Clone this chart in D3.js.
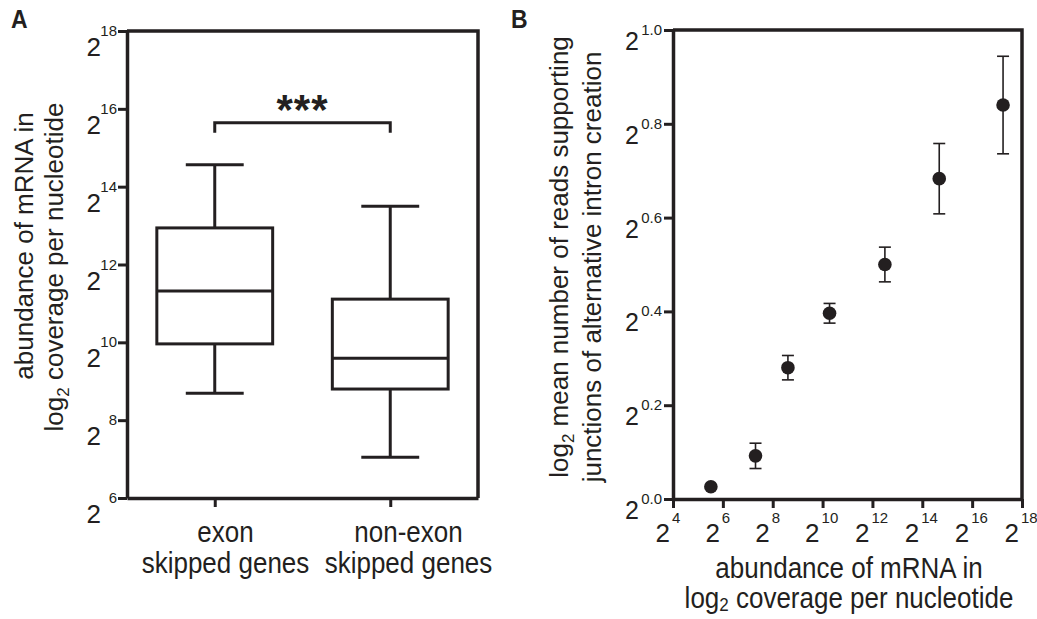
<!DOCTYPE html>
<html>
<head>
<meta charset="utf-8">
<script src="https://cdn.jsdelivr.net/npm/d3@7"></script>
<style>
  body { margin: 0; background: #fff; }
  svg { font-family: "Liberation Sans", Arial, sans-serif; }
  text { fill: #231f20; }
</style>
</head>
<body>
<svg width="1037" height="619"></svg>
<script>
// panel A data: box plot summaries (log2 coverage)
var groups = ["exon", "non-exon"];
var groupLine1 = ["exon", "non-exon"];
var groupLine2 = ["skipped genes", "skipped genes"];
var boxMin = [8.69, 7.05];
var boxQ1 = [9.96, 8.80];
var boxMedian = [11.32, 9.59];
var boxQ3 = [12.94, 11.11];
var boxMax = [14.56, 13.50];
var yTicksA = [6, 8, 10, 12, 14, 16, 18];

// panel B data: mean +- error
var abundance = [5.52, 7.31, 8.61, 10.28, 12.5, 14.68, 17.24];
var meanReads = [0.026, 0.092, 0.280, 0.396, 0.500, 0.683, 0.840];
var errReads = [0.004, 0.027, 0.026, 0.021, 0.037, 0.075, 0.104];
var xTicksB = [4, 6, 8, 10, 12, 14, 16, 18];
var yTicksB = [0.0, 0.2, 0.4, 0.6, 0.8, 1.0];

var ink = "#231f20";
var stretch = 1.12; // the printed lettering is a bit taller than Arial
var svg = d3.select("svg");

function at(x, y) { return "translate(" + x + "," + y + ") scale(1," + stretch + ")"; }

// ---------- panel A ----------
var xA = d3.scalePoint().domain(groups).range([127, 478]).padding(0.5);
var yA = d3.scaleLinear().domain([6, 18]).range([498, 31]);
var boxW = xA.step() * 0.66;

var gA = svg.append("g");

gA.append("g")
    .attr("class", "axis")
    .attr("transform", "translate(127,0)")
    .call(d3.axisLeft(yA).tickValues(yTicksA).tickSize(9).tickSizeOuter(0).tickFormat(""));

gA.append("g")
    .attr("class", "axis")
    .attr("transform", "translate(0,498)")
    .call(d3.axisBottom(xA).tickSize(9).tickSizeOuter(0).tickFormat(""));

// frame top/right
gA.append("path")
    .attr("d", "M127," + yA(18) + "H478V498")
    .attr("fill", "none").attr("stroke", ink).attr("stroke-width", 3.5);

// y tick labels 2^n
gA.selectAll(".ylab").data(yTicksA).enter().append("text")
    .attr("x", 101).attr("y", function(d) { return yA(d) + 25; })
    .attr("text-anchor", "end").style("font-size", "26px").text("2");
gA.selectAll(".ysup").data(yTicksA).enter().append("text")
    .attr("x", 117).attr("y", function(d) { return yA(d) + 5; })
    .attr("text-anchor", "end").style("font-size", "15px").text(function(d) { return d; });

// category labels
var labX = d3.scalePoint().domain(groups).range([127 + 7, 478 + 22]).padding(0.5);
gA.selectAll(".cat1").data(groups).enter().append("text")
    .attr("transform", function(d) { return at(labX(d), 542); })
    .attr("text-anchor", "middle").style("font-size", "26px")
    .text(function(d, i) { return groupLine1[i]; });
gA.selectAll(".cat2").data(groups).enter().append("text")
    .attr("transform", function(d) { return at(labX(d), 573); })
    .attr("text-anchor", "middle").style("font-size", "26px")
    .text(function(d, i) { return groupLine2[i]; });

// whiskers
var box = gA.selectAll(".box").data(groups).enter().append("g")
    .attr("fill", "none").attr("stroke", ink).attr("stroke-width", 3);
box.append("line")
    .attr("x1", function(d) { return xA(d); }).attr("x2", function(d) { return xA(d); })
    .attr("y1", function(d, i) { return yA(boxMax[i]); })
    .attr("y2", function(d, i) { return yA(boxQ3[i]); });
box.append("line")
    .attr("x1", function(d) { return xA(d); }).attr("x2", function(d) { return xA(d); })
    .attr("y1", function(d, i) { return yA(boxQ1[i]); })
    .attr("y2", function(d, i) { return yA(boxMin[i]); });
box.append("line")
    .attr("x1", function(d) { return xA(d) - boxW / 4; }).attr("x2", function(d) { return xA(d) + boxW / 4; })
    .attr("y1", function(d, i) { return yA(boxMax[i]); })
    .attr("y2", function(d, i) { return yA(boxMax[i]); });
box.append("line")
    .attr("x1", function(d) { return xA(d) - boxW / 4; }).attr("x2", function(d) { return xA(d) + boxW / 4; })
    .attr("y1", function(d, i) { return yA(boxMin[i]); })
    .attr("y2", function(d, i) { return yA(boxMin[i]); });
box.append("rect")
    .attr("x", function(d) { return xA(d) - boxW / 2; })
    .attr("y", function(d, i) { return yA(boxQ3[i]); })
    .attr("width", boxW)
    .attr("height", function(d, i) { return yA(boxQ1[i]) - yA(boxQ3[i]); });
box.append("line")
    .attr("x1", function(d) { return xA(d) - boxW / 2; }).attr("x2", function(d) { return xA(d) + boxW / 2; })
    .attr("y1", function(d, i) { return yA(boxMedian[i]); })
    .attr("y2", function(d, i) { return yA(boxMedian[i]); });

// significance bracket
var brY = yA(15.64);
gA.append("path")
    .attr("d", "M" + xA("exon") + "," + (brY + 10) + "V" + brY + "H" + xA("non-exon") + "V" + (brY + 10))
    .attr("fill", "none").attr("stroke", ink).attr("stroke-width", 3);
gA.append("text")
    .attr("x", (xA("exon") + xA("non-exon")) / 2).attr("y", brY + 1)
    .attr("text-anchor", "middle").style("font-size", "42px").style("font-weight", "bold")
    .style("letter-spacing", "1px")
    .text("***");

// y title
gA.append("text").attr("transform", "translate(33,246) rotate(-90)")
    .attr("text-anchor", "middle").style("font-size", "26px")
    .text("abundance of mRNA in");
var tA2 = gA.append("text").attr("transform", "translate(63,267) rotate(-90)")
    .attr("text-anchor", "middle").style("font-size", "26px");
tA2.append("tspan").text("log");
tA2.append("tspan").attr("dy", 6).style("font-size", "17px").text("2");
tA2.append("tspan").attr("dy", -6).text(" coverage per nucleotide");

svg.append("text").attr("transform", at(11, 28))
    .style("font-size", "23px").style("font-weight", "bold").text("A");

// ---------- panel B ----------
var xB = d3.scaleLinear().domain([4, 18]).range([673, 1022]);
var yB = d3.scaleLinear().domain([0, 1]).range([499, 30]);
var gB = svg.append("g");

gB.append("g")
    .attr("class", "axis")
    .attr("transform", "translate(673,0)")
    .call(d3.axisLeft(yB).tickValues(yTicksB).tickSize(9).tickSizeOuter(0).tickFormat(""));
gB.append("g")
    .attr("class", "axis")
    .attr("transform", "translate(0,499)")
    .call(d3.axisBottom(xB).tickValues(xTicksB).tickSize(9).tickSizeOuter(0).tickFormat(""));
gB.append("path")
    .attr("d", "M673," + yB(1) + "H1022V499")
    .attr("fill", "none").attr("stroke", ink).attr("stroke-width", 3.5);

gB.selectAll(".ylab").data(yTicksB).enter().append("text")
    .attr("x", 639).attr("y", function(d) { return yB(d) + 20; })
    .attr("text-anchor", "end").style("font-size", "25px").text("2");
gB.selectAll(".ysup").data(yTicksB).enter().append("text")
    .attr("x", 662).attr("y", function(d) { return yB(d) + 5; })
    .attr("text-anchor", "end").style("font-size", "15px").text(function(d) { return d.toFixed(1); });

gB.selectAll(".xlab").data(xTicksB).enter().append("text")
    .attr("x", function(d) { return xB(d) - 3; }).attr("y", 542)
    .attr("text-anchor", "end").style("font-size", "26px").text("2");
gB.selectAll(".xsup").data(xTicksB).enter().append("text")
    .attr("x", function(d) { return xB(d) - 1; }).attr("y", 523)
    .attr("text-anchor", "start").style("font-size", "15px").text(function(d) { return d; });

// error bars + points
var pts = gB.selectAll(".pt").data(abundance).enter().append("g")
    .attr("stroke", ink).attr("stroke-width", 1.6);
pts.append("line")
    .attr("x1", function(d) { return xB(d); }).attr("x2", function(d) { return xB(d); })
    .attr("y1", function(d, i) { return yB(meanReads[i] + errReads[i]); })
    .attr("y2", function(d, i) { return yB(meanReads[i] - errReads[i]); });
pts.append("line")
    .attr("x1", function(d) { return xB(d) - 6; }).attr("x2", function(d) { return xB(d) + 6; })
    .attr("y1", function(d, i) { return yB(meanReads[i] + errReads[i]); })
    .attr("y2", function(d, i) { return yB(meanReads[i] + errReads[i]); });
pts.append("line")
    .attr("x1", function(d) { return xB(d) - 6; }).attr("x2", function(d) { return xB(d) + 6; })
    .attr("y1", function(d, i) { return yB(meanReads[i] - errReads[i]); })
    .attr("y2", function(d, i) { return yB(meanReads[i] - errReads[i]); });
pts.append("circle")
    .attr("cx", function(d) { return xB(d); })
    .attr("cy", function(d, i) { return yB(meanReads[i]); })
    .attr("r", 6.8).attr("fill", ink).attr("stroke", "none");

// B titles
var tB1 = gB.append("text").attr("transform", "translate(568,257) rotate(-90)")
    .attr("text-anchor", "middle").style("font-size", "26px");
tB1.append("tspan").text("log");
tB1.append("tspan").attr("dy", 6).style("font-size", "17px").text("2");
tB1.append("tspan").attr("dy", -6).text(" mean number of reads supporting");
gB.append("text").attr("transform", "translate(601,267) rotate(-90)")
    .attr("text-anchor", "middle").style("font-size", "26px")
    .text("junctions of alternative intron creation");

gB.append("text").attr("transform", at(849, 578))
    .attr("text-anchor", "middle").style("font-size", "26px")
    .text("abundance of mRNA in");
var tB3 = gB.append("text").attr("transform", at(849, 608))
    .attr("text-anchor", "middle").style("font-size", "26px");
tB3.append("tspan").text("log");
tB3.append("tspan").attr("dy", 3).style("font-size", "17px").text("2");
tB3.append("tspan").attr("dy", -3).text(" coverage per nucleotide");

svg.append("text").attr("transform", at(511, 28))
    .style("font-size", "23px").style("font-weight", "bold").text("B");

// axis styling
svg.selectAll(".axis .domain").attr("stroke", ink).attr("stroke-width", 3.5);
svg.selectAll(".axis .tick line").attr("stroke", ink).attr("stroke-width", 3);
</script>
</body>
</html>
